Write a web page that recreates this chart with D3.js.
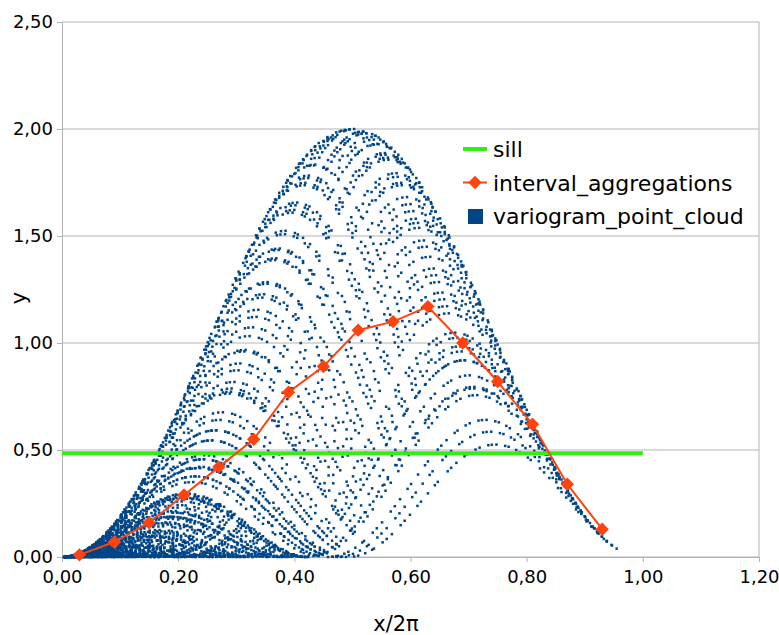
<!DOCTYPE html>
<html>
<head>
<meta charset="utf-8">
<script src="https://cdn.jsdelivr.net/npm/d3@7"></script>
<style>
  body { margin: 0; background: #fff; }
  text { font-family: "DejaVu Sans", sans-serif; }
</style>
</head>
<body>
<svg id="chart" width="779" height="635"></svg>
<script>
// sampled signal behind the variogram cloud (position / value)
let samplePos = [0.004, 0.013, 0.021, 0.037, 0.042, 0.058, 0.066, 0.071, 0.089, 0.097,
  0.103, 0.118, 0.124, 0.139, 0.147, 0.152, 0.168, 0.176, 0.191, 0.196,
  0.207, 0.219, 0.228, 0.233, 0.249, 0.257, 0.266, 0.281, 0.287, 0.294,
  0.309, 0.316, 0.328, 0.334, 0.347, 0.352, 0.368, 0.377, 0.383, 0.398,
  0.404, 0.417, 0.423, 0.436, 0.448, 0.455, 0.461, 0.479, 0.486, 0.493,
  0.507, 0.514, 0.526, 0.538, 0.541, 0.556, 0.563, 0.572, 0.587, 0.594,
  0.603, 0.616, 0.622, 0.634, 0.646, 0.651, 0.668, 0.674, 0.683, 0.697,
  0.702, 0.716, 0.723, 0.738, 0.744, 0.752, 0.767, 0.773, 0.786, 0.792,
  0.806, 0.811, 0.827, 0.834, 0.843, 0.858, 0.864, 0.872, 0.889, 0.893,
  0.907, 0.915, 0.926, 0.937, 0.942, 0.951, 0.959]
let sampleVal = [0.025, 0.082, 0.132, 0.230, 0.261, 0.356, 0.403, 0.431, 0.531, 0.572,
  0.603, 0.675, 0.703, 0.767, 0.798, 0.816, 0.870, 0.894, 0.932, 0.943,
  0.964, 0.981, 0.990, 0.994, 1.000, 0.999, 0.995, 0.981, 0.973, 0.962,
  0.932, 0.915, 0.882, 0.864, 0.820, 0.801, 0.737, 0.698, 0.671, 0.598,
  0.567, 0.498, 0.465, 0.391, 0.321, 0.279, 0.243, 0.132, 0.088, 0.044,
  -0.044, -0.088, -0.163, -0.236, -0.255, -0.345, -0.386, -0.437, -0.520, -0.557,
  -0.603, -0.666, -0.694, -0.746, -0.794, -0.813, -0.870, -0.888, -0.913, -0.945,
  -0.955, -0.977, -0.986, -0.997, -0.999, -1.000, -0.994, -0.990, -0.975, -0.965,
  -0.939, -0.927, -0.885, -0.864, -0.834, -0.778, -0.754, -0.720, -0.642, -0.623,
  -0.552, -0.509, -0.448, -0.386, -0.356, -0.303, -0.255]

// interval aggregations
let aggX = [0.03, 0.09, 0.15, 0.21, 0.27, 0.33, 0.39, 0.45, 0.51, 0.57, 0.63, 0.69, 0.75, 0.81, 0.87, 0.93]
let aggY = [0.01, 0.07, 0.16, 0.29, 0.42, 0.55, 0.77, 0.89, 1.06, 1.10, 1.17, 1.00, 0.82, 0.62, 0.34, 0.13]

let sillValue = 0.485
let sillRange = [0, 1.0]

let xTicks = [0, 0.2, 0.4, 0.6, 0.8, 1.0, 1.2]
let yTicks = [0, 0.5, 1.0, 1.5, 2.0, 2.5]

let seriesNames = ["sill", "interval_aggregations", "variogram_point_cloud"]
let colors = ["#33ee11", "#ff420e", "#004586"]

//=================== variogram cloud: pairwise half squared differences ===================
let cloud = []
for (let i = 0; i < samplePos.length; i++) {
  for (let j = i + 1; j < samplePos.length; j++) {
    let dz = sampleVal[j] - sampleVal[i]
    cloud.push({h: Math.abs(samplePos[j] - samplePos[i]), g: 0.5 * dz * dz})
  }
}

//========================= SVG setup ============================
let svg = d3.select("#chart"),
  margin = {top: 22, right: 20, bottom: 78, left: 62},
  width = 779 - margin.left - margin.right,
  height = 635 - margin.top - margin.bottom,
  g = svg.append("g").attr("transform", "translate(" + margin.left + "," + margin.top + ")")

let x = d3.scaleLinear().domain([0, 1.2]).range([0, width])
let y = d3.scaleLinear().domain([0, 2.5]).range([height, 0])
let fmt = function(d) { return d3.format(".2f")(d).replace(".", ",") }

// gridlines
g.selectAll(".grid").data(yTicks).enter().append("line")
  .attr("x1", 0).attr("x2", width)
  .attr("y1", function(d) { return y(d) }).attr("y2", function(d) { return y(d) })
  .attr("stroke", "#b3b3b3").attr("stroke-width", 1)
g.append("line").attr("x1", width).attr("x2", width).attr("y1", 0).attr("y2", height)
  .attr("stroke", "#b3b3b3")

// axes
let xAxis = g.append("g")
  .attr("transform", "translate(0," + height + ")")
  .call(d3.axisBottom(x).tickValues(xTicks).tickFormat(fmt).tickSize(5).tickPadding(8))
let yAxis = g.append("g")
  .call(d3.axisLeft(y).tickValues(yTicks).tickFormat(fmt).tickSize(5).tickPadding(4))
;[xAxis, yAxis].forEach(function(a) {
  a.select(".domain").attr("stroke", "#b3b3b3")
  a.selectAll(".tick line").attr("stroke", "#b3b3b3")
  a.selectAll("text").attr("fill", "#000").style("font-family", "DejaVu Sans").style("font-size", "18px")
})

g.append("text").attr("x", 396 - margin.left).attr("y", 631 - margin.top)
  .attr("text-anchor", "middle").style("font-size", "21px").text("x/2π")
g.append("text").attr("transform", "translate(" + (26 - margin.left) + "," + (298 - margin.top) + ") rotate(-90)")
  .attr("text-anchor", "middle").style("font-size", "21px").text("y")

// point cloud
g.append("g").selectAll("rect").data(cloud).enter().append("rect")
  .attr("x", function(d) { return x(d.h) - 1.25 })
  .attr("y", function(d) { return y(d.g) - 1.25 })
  .attr("width", 2.5).attr("height", 2.5)
  .attr("fill", colors[2])

// sill
g.append("line")
  .attr("x1", x(sillRange[0])).attr("x2", x(sillRange[1]))
  .attr("y1", y(sillValue)).attr("y2", y(sillValue))
  .attr("stroke", colors[0]).attr("stroke-width", 4)

// interval aggregations
let aggData = aggX.map(function(d, i) { return {x: d, y: aggY[i]} })
let line = d3.line().x(function(d) { return x(d.x) }).y(function(d) { return y(d.y) })
g.append("path").datum(aggData).attr("d", line)
  .attr("fill", "none").attr("stroke", colors[1]).attr("stroke-width", 2)
let diamond = d3.symbol().type(d3.symbolSquare).size(90)
g.selectAll(".marker").data(aggData).enter().append("path")
  .attr("d", diamond)
  .attr("transform", function(d) { return "translate(" + x(d.x) + "," + y(d.y) + ") rotate(45)" })
  .attr("fill", colors[1])

//=========================== legend ===========================
let legend = svg.append("g").attr("transform", "translate(463,149)")
let item = legend.selectAll(".legendItem").data(seriesNames).enter().append("g")
  .attr("transform", function(d, i) { return "translate(0," + (i * 33.5) + ")" })
item.append("text").attr("x", 30).attr("y", 8).style("font-size", "22px")
  .text(function(d) { return d })
item.filter(function(d, i) { return i < 2 }).append("line")
  .attr("x1", 0).attr("x2", 24).attr("y1", 0).attr("y2", 0)
  .attr("stroke", function(d, i) { return colors[i] })
  .attr("stroke-width", function(d, i) { return i == 0 ? 4 : 2 })
item.filter(function(d, i) { return i == 1 }).append("path")
  .attr("d", diamond).attr("transform", "translate(12,0) rotate(45)").attr("fill", colors[1])
item.filter(function(d, i) { return i == 2 }).append("rect")
  .attr("x", 5).attr("y", -7).attr("width", 15).attr("height", 15).attr("fill", colors[2])
</script>
</body>
</html>
